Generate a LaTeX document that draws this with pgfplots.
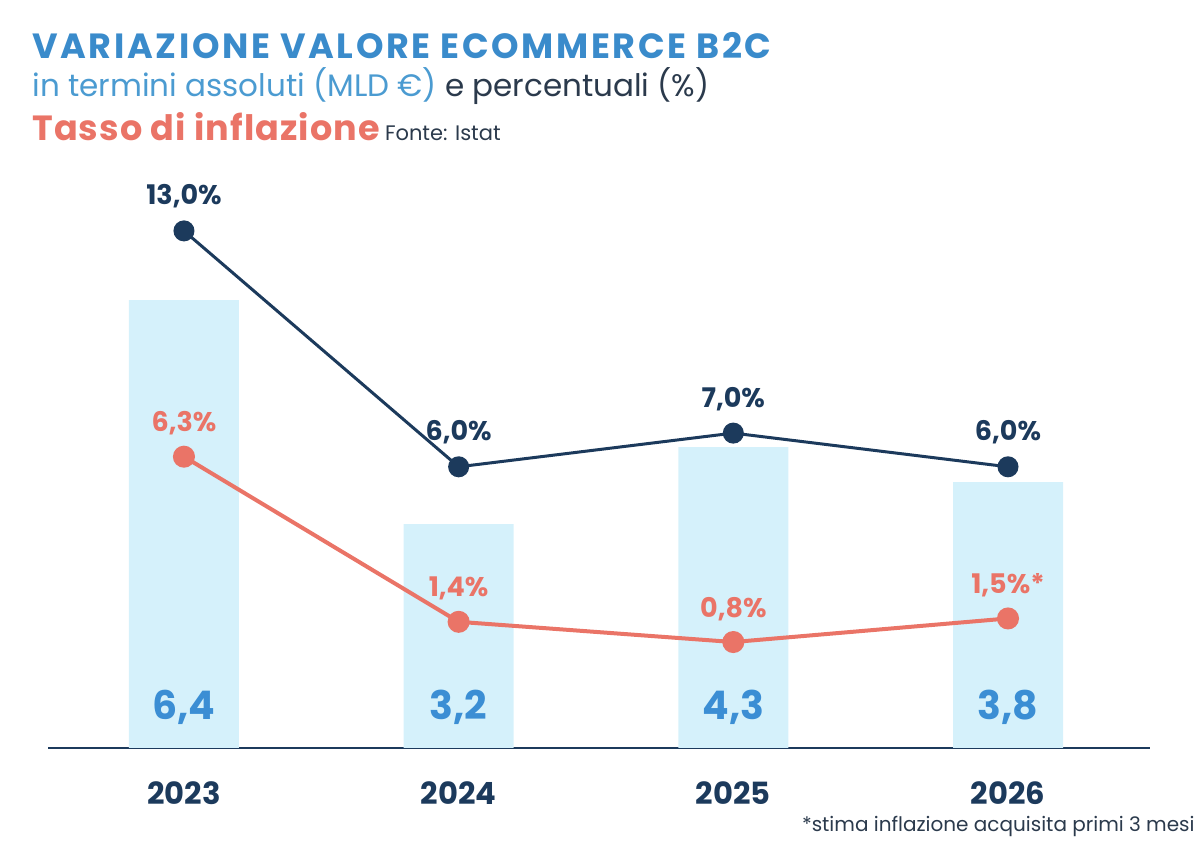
\documentclass[border=0pt]{standalone}
\usepackage{fontspec}
\setmainfont{Poppins}
\usepackage{pgfplots}
\pgfplotsset{compat=1.18}
\definecolor{titleblue}{HTML}{3A8BCB}
\definecolor{subblue}{HTML}{4B9BD1}
\definecolor{navy}{HTML}{1C3A5C}
\definecolor{darktext}{HTML}{2B3A4C}
\definecolor{coral}{HTML}{EA7467}
\definecolor{barfill}{HTML}{D5F1FB}
\definecolor{barlabel}{HTML}{3B8ED4}
\begin{document}
\begin{tikzpicture}
\useasboundingbox (0,0) rectangle (600pt,420.5pt);
\node[anchor=base west, inner sep=0pt, text=titleblue, font=\bfseries\fontsize{17.5}{17.5}\selectfont\addfontfeature{LetterSpace=7.5}] at (16pt,391pt) {VARIAZIONE VALORE ECOMMERCE B2C};
\node[anchor=base west, inner sep=0pt, font=\fontsize{15.5}{15.5}\selectfont] at (16pt,372pt) {\textcolor{subblue}{in termini assoluti (MLD €)} \textcolor{darktext}{e percentuali (\%)}};
\node[anchor=base west, inner sep=0pt] at (16pt,350pt) {\textcolor{coral}{\bfseries\fontsize{17.5}{17.5}\selectfont\addfontfeature{LetterSpace=3}Tasso di inflazione} \textcolor{darktext}{\fontsize{10.5}{10.5}\selectfont Fonte: Istat}};
\node[anchor=base east, inner sep=0pt, text=darktext, font=\fontsize{10}{10}\selectfont] at (597.5pt,5pt) {*stima inflazione acquisita primi 3 mesi};

\begin{axis}[
  at={(24pt,46.5pt)}, anchor=south west, scale only axis,
  width=551pt, height=294pt,
  xmin=-0.495, xmax=3.517, ymin=0, ymax=8.4,
  clip=false,
  axis x line=bottom, axis y line=none,
  x axis line style={-, draw=navy, line width=1.2pt},
  xtick={0,1,2,3}, xticklabels={2023,2024,2025,2026},
  xtick style={draw=none},
  xticklabel style={anchor=base, yshift=-26pt, text=navy, font=\bfseries\fontsize{15.3}{15.3}\selectfont},
]
\addplot[ybar, bar width=55pt, fill=barfill, draw=none] coordinates {(0,6.4) (1,3.2) (2,4.3) (3,3.8)};
\addplot[draw=none, mark=none, nodes near coords, point meta=explicit symbolic,
  every node near coord/.append style={anchor=base, inner sep=0pt, text=barlabel, font=\bfseries\fontsize{19.7}{19.7}\selectfont}]
  table[meta=lab] {
x y lab
0 0.4 6,4
1 0.4 3,2
2 0.4 4,3
3 0.4 3,8
};
\end{axis}

\begin{axis}[
  at={(24pt,46.5pt)}, anchor=south west, scale only axis,
  width=551pt, height=294pt,
  xmin=-0.495, xmax=3.517, ymin=-2.344, ymax=15.104,
  clip=false, hide axis,
]
\addplot[navy, line width=1.5pt, mark=*, mark size=4.5pt, mark options={fill=navy, draw=navy},
  nodes near coords, point meta=explicit symbolic,
  every node near coord/.append style={anchor=base, yshift=13pt, inner sep=0pt, text=navy, font=\bfseries\fontsize{13.5}{13.5}\selectfont}]
  table[meta=lab] {
x y lab
0 13 13,0\%
1 6 6,0\%
2 7 7,0\%
3 6 6,0\%
};
\addplot[coral, line width=2pt, mark=*, mark size=4.5pt, mark options={fill=coral, draw=coral},
  nodes near coords, point meta=explicit symbolic,
  every node near coord/.append style={anchor=base, yshift=12.5pt, inner sep=0pt, text=coral, font=\bfseries\fontsize{13.5}{13.5}\selectfont}]
  table[meta=lab] {
x y lab
0 6.3 6,3\%
1 1.4 1,4\%
2 0.8 0,8\%
3 1.5 1,5\%*
};
\end{axis}
\end{tikzpicture}
\end{document}
